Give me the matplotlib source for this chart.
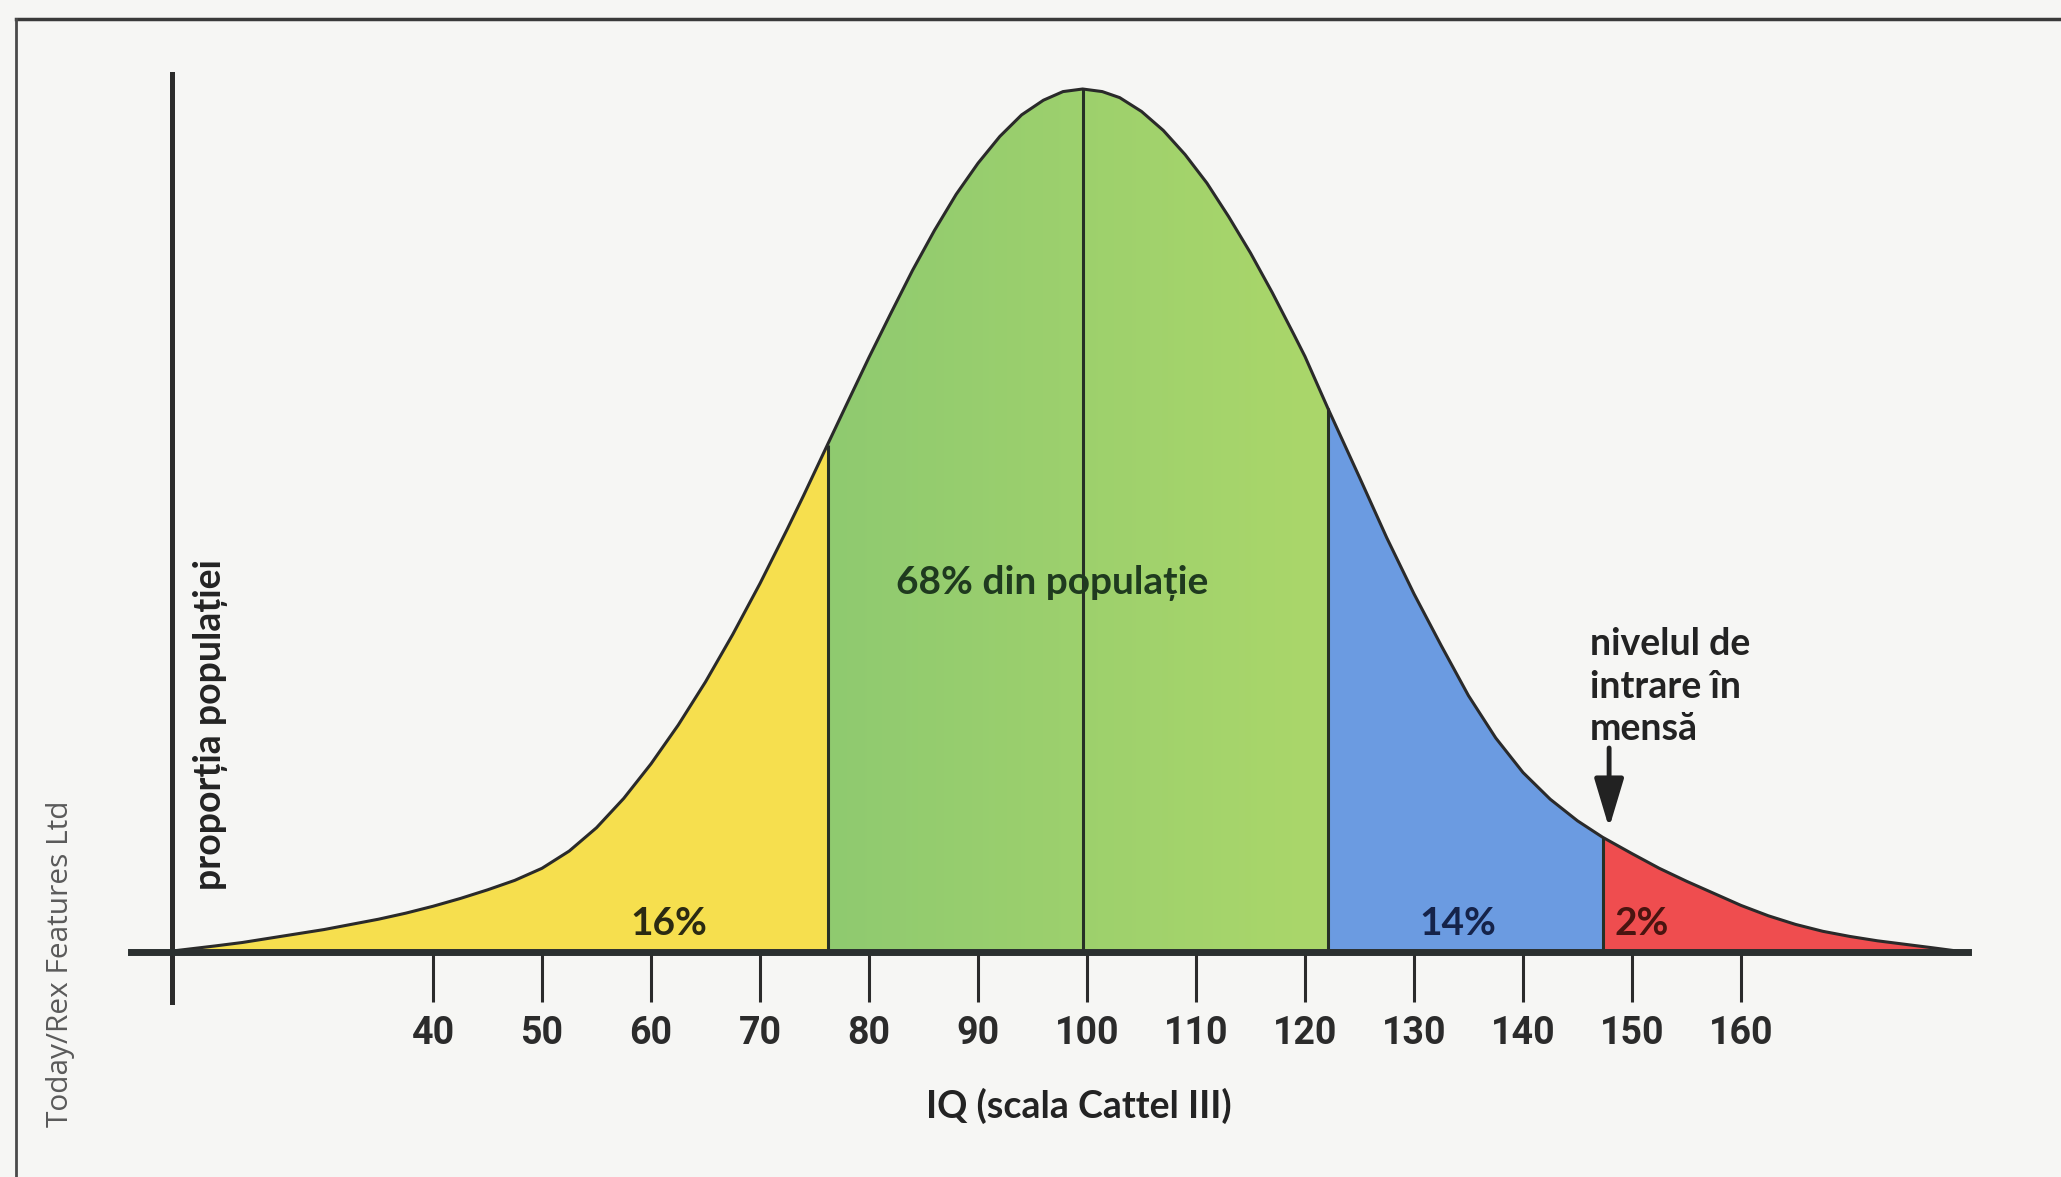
import matplotlib
matplotlib.use("Agg")
import matplotlib.pyplot as plt
from matplotlib import font_manager
from matplotlib.lines import Line2D
import numpy as np

# IQ curve (height relative to the peak)
iq = [16, 18, 20, 22.5, 25, 27.5, 30, 32.5, 35, 37.5, 40, 42.5, 45, 47.5, 50,
      52.5, 55, 57.5, 60, 62.5, 65, 67.5, 70, 72.5, 74, 76.2, 78, 80, 82, 84,
      86, 88, 90, 92, 94, 96, 97.8, 99.6, 101.4, 103, 105, 107, 109, 111, 113,
      115, 117, 119, 120, 122.1, 125, 127.5, 130, 132.5, 135, 137.5, 140,
      142.5, 145, 147.3, 150, 152.5, 155, 157.5, 160, 162.5, 165, 167.5, 170,
      172.5, 175, 177.5, 180.5]
height = [0.001, 0.004, 0.007, 0.011, 0.016, 0.021, 0.026, 0.032, 0.038,
          0.045, 0.053, 0.062, 0.072, 0.083, 0.097, 0.117, 0.144, 0.178, 0.218,
          0.263, 0.313, 0.368, 0.427, 0.49, 0.529, 0.588, 0.636, 0.689, 0.74,
          0.79, 0.836, 0.878, 0.914, 0.945, 0.97, 0.987, 0.997, 1.0, 0.997,
          0.99, 0.974, 0.952, 0.924, 0.891, 0.852, 0.81, 0.764, 0.715, 0.69,
          0.63, 0.55, 0.48, 0.415, 0.355, 0.297, 0.248, 0.208, 0.177, 0.152,
          0.133, 0.114, 0.097, 0.082, 0.068, 0.054, 0.042, 0.032, 0.024, 0.018,
          0.013, 0.009, 0.005, 0.0]

# band edges and colours
bands = [16, 76.2, 122.1, 147.3, 180.5]
band_colors = ["#f6df4e", "#9dce6c", "#6b9be1", "#ef4d4f"]
green_grad = ["#8fca70", "#abd76a"]
mean_iq = 99.6

band_labels = ["16%", "68% din populație", "14%", "2%"]
label_pos = [(61.6, 0.02), (96.8, 0.415), (134.0, 0.02), (150.9, 0.02)]
label_colors = ["#2b2a12", "#1f3a1f", "#15234a", "#4a1410"]

ticks = [40, 50, 60, 70, 80, 90, 100, 110, 120, 130, 140, 150, 160]
mensa_iq = 147.9

W, H = 2061, 1177
fig = plt.figure(figsize=(W / 100, H / 100), dpi=100, facecolor="#f6f6f4")
ax = fig.add_axes([0, 0, 1, 1])
ax.set_facecolor("none")

# pixel mapping: IQ 40 at x=433, 10.9 px per IQ; baseline y=952, peak y=89
xlim = (40 - 433 / 10.9, 40 + (W - 433) / 10.9)
ylim = (-(H - 952) / 863, 952 / 863)


def pick(names):
    have = {f.name for f in font_manager.fontManager.ttflist}
    return [n for n in names if n in have] + ["DejaVu Sans"]


human = pick(["Lato", "Open Sans"])

x = np.array(iq)
y = np.array(height)
for lo, hi, c in zip(bands[:-1], bands[1:], band_colors):
    m = (x >= lo) & (x <= hi)
    poly = ax.fill_between(x[m], 0, y[m], color=c, lw=0, zorder=1)
    if lo == bands[1]:
        grad = np.linspace(0, 1, 256).reshape(1, -1)
        cmap = matplotlib.colors.LinearSegmentedColormap.from_list("g", green_grad)
        im = ax.imshow(grad, cmap=cmap, aspect="auto", zorder=1.5,
                       extent=[lo, hi, 0, 1.02], interpolation="bilinear")
        im.set_clip_path(poly.get_paths()[0], transform=ax.transData)

ax.plot(x, y, color="#2a2a2a", lw=2.2, zorder=3, solid_capstyle="round")
edges = [bands[1], mean_iq, bands[2], bands[3]]
ax.vlines(edges, 0, np.interp(edges, x, y), color="#263026", lw=2.2, zorder=2)

# axes as in the picture
for s in ["top", "right"]:
    ax.spines[s].set_visible(False)
ax.spines["bottom"].set_position(("data", 0))
ax.spines["bottom"].set_bounds(40 - (433 - 131) / 10.9, 40 + (1968 - 433) / 10.9)
ax.spines["bottom"].set_linewidth(5)
ax.spines["bottom"].set_color("#2b3030")
ax.spines["bottom"].set_zorder(4)
ax.spines["left"].set_position(("data", 40 - (433 - 172) / 10.9))
ax.spines["left"].set_bounds(-(1002 - 952) / 863, (952 - 74) / 863)
ax.spines["left"].set_linewidth(3.6)
ax.spines["left"].set_color("#2b2b2b")
ax.set_xlim(xlim)
ax.set_ylim(ylim)
ax.set_yticks([])
ax.set_xticks(ticks)
ax.set_xticklabels([str(t) for t in ticks], family=pick(["Roboto"]),
                   fontweight="bold", fontsize=27, color="#2b2b2b")
ax.tick_params(axis="x", direction="out", length=36, width=2.2, pad=9,
               color="#2b2b2b")

for txt, (px, py), c in zip(band_labels, label_pos, label_colors):
    ax.text(px, py, txt, ha="center", va="baseline", fontsize=28,
            fontweight="bold", color=c, family=human, zorder=5)

ax.annotate("", xy=(mensa_iq, (952 - 828) / 863),
            xytext=(mensa_iq, (952 - 748) / 863),
            arrowprops=dict(arrowstyle="-|>,head_length=1.5,head_width=0.45",
                            mutation_scale=20, lw=3.5, color="#222222",
                            shrinkA=0, shrinkB=0), zorder=6)
fig.text(1590 / W, 1 - 740 / H, "nivelul de\nintrare în\nmensă", ha="left",
         va="baseline", fontsize=27, fontweight="bold", color="#232323",
         family=human, linespacing=1.3)

fig.text(211 / W, 1 - 725 / H, "proporția populației", rotation=90,
         ha="center", va="center", fontsize=27, fontweight="bold",
         color="#232323", family=human)
fig.text(1079 / W, 1 - 1106 / H, "IQ (scala Cattel III)", ha="center",
         va="center", fontsize=27, fontweight="bold", color="#232323",
         family=human)
fig.text(61 / W, 1 - 964 / H, "Today/Rex Features Ltd", rotation=90,
         ha="center", va="center", fontsize=21.5, color="#5a5a5a",
         family=pick(["Open Sans"]))

# page frame
fig.add_artist(Line2D([16 / W, 1], [1 - 19 / H] * 2, color="#3a3a3a", lw=2.5))
fig.add_artist(Line2D([16 / W] * 2, [0, 1 - 19 / H], color="#4a4a4a", lw=2))

fig.savefig("out.png", dpi=100, facecolor=fig.get_facecolor())
